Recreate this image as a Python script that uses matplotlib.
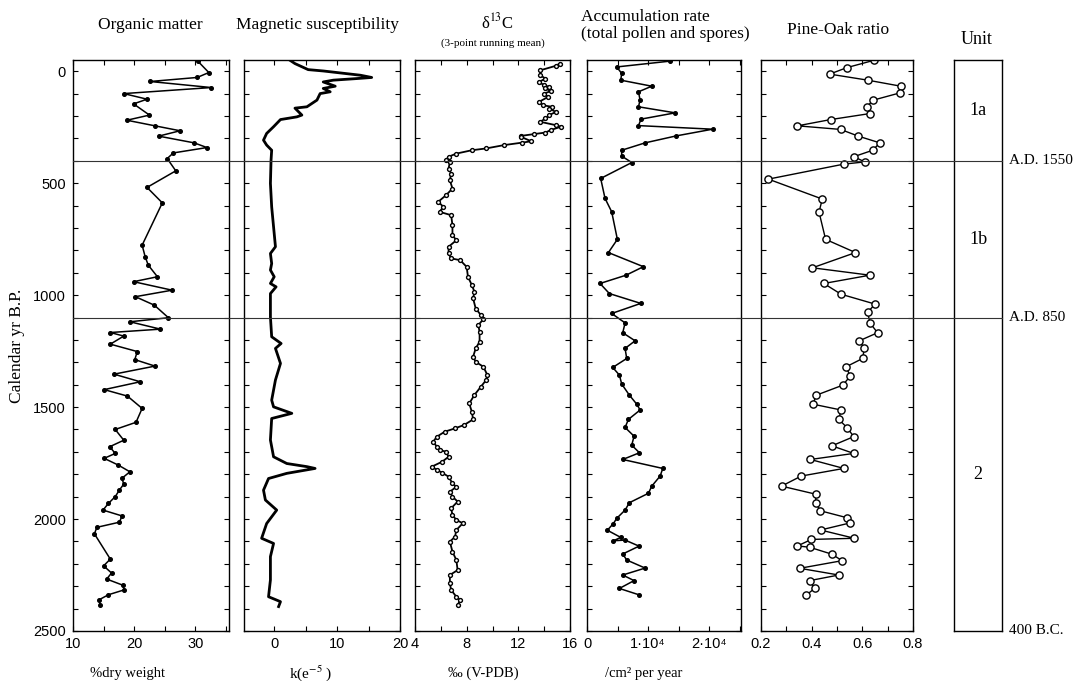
import matplotlib.pyplot as plt
from matplotlib.lines import Line2D
from matplotlib.ticker import MultipleLocator
from matplotlib.transforms import blended_transform_factory

plt.rcParams['mathtext.fontset'] = 'stix'

SERIF = 'Liberation Serif'
SANS = ['Liberation Sans', 'DejaVu Sans']

# ---- data: calendar age (yr B.P.) and measured value per record ----
om_age = [-45, 6, 28, 46, 73, 100, 125, 146, 196, 219, 244, 266, 290, 320, 341, 365, 390,
          445, 519, 588, 777, 829, 866, 918, 940, 978, 1007, 1045, 1101, 1119, 1152, 1167,
          1183, 1219, 1252, 1288, 1317, 1353, 1387, 1422, 1451, 1506, 1568, 1600, 1648,
          1677, 1707, 1729, 1759, 1789, 1818, 1844, 1870, 1900, 1930, 1960, 1986, 2014,
          2037, 2066, 2179, 2209, 2241, 2268, 2295, 2316, 2338, 2360, 2384]
om_val = [30.4, 32.2, 30.3, 22.6, 32.6, 18.3, 22.1, 19.9, 22.5, 18.8, 23.4, 27.5, 24.0,
          29.8, 31.9, 26.4, 25.4, 26.8, 22.1, 24.6, 21.3, 21.8, 22.3, 23.8, 19.9, 26.2,
          20.2, 23.3, 25.6, 19.3, 24.3, 16.1, 18.3, 16.1, 20.5, 20.1, 23.4, 16.7, 21.0,
          15.1, 18.9, 21.3, 20.3, 16.9, 18.3, 16.0, 16.9, 15.1, 17.4, 19.3, 18.0, 18.3,
          17.6, 16.9, 15.8, 14.9, 18.0, 17.6, 13.9, 13.5, 16.1, 15.0, 16.3, 15.5, 18.1,
          18.4, 15.8, 14.3, 14.4]

ms_age = [-49, -34, -7, -1, 18, 28, 33, 40, 48, 67, 77, 92, 100, 129, 159, 165, 196, 204,
          216, 248, 278, 308, 330, 353, 397, 501, 606, 695, 784, 814, 859, 888, 918, 948,
          963, 993, 1097, 1186, 1216, 1238, 1305, 1379, 1469, 1499, 1528, 1551, 1647, 1722,
          1752, 1766, 1774, 1796, 1819, 1871, 1915, 1960, 2020, 2086, 2109, 2168, 2272,
          2347, 2369, 2391]
ms_val = [2.5, 3.3, 5.4, 7.8, 13.7, 15.5, 13.1, 9.4, 7.8, 9.7, 7.8, 8.9, 7.3, 6.8, 5.2,
          3.3, 4.4, 3.6, 1.0, -0.1, -1.2, -1.7, -1.2, -0.4, -0.5, -0.6, -0.4, -0.1, 0.2,
          -0.6, -0.4, -0.6, 0.0, -0.6, 0.3, -0.6, -0.6, -0.4, 1.1, 0.2, 1.0, 0.2, -0.4,
          -0.1, 2.8, -0.4, -0.6, -0.1, 2.0, 5.2, 6.5, 2.0, -0.9, -1.7, -1.4, 0.4, -1.2,
          -2.0, -0.1, -0.6, -0.6, -0.9, 1.0, 0.7]

d13c_age = [-34, -24, -4, 18, 33, 48, 63, 70, 77, 89, 100, 115, 137, 152, 159, 167, 182,
            196, 211, 226, 241, 248, 263, 274, 281, 289, 293, 313, 319, 330, 345, 353, 368,
            382, 397, 405, 435, 457, 487, 524, 554, 583, 606, 628, 643, 688, 732, 755, 784,
            814, 836, 844, 874, 918, 955, 985, 1015, 1060, 1089, 1107, 1134, 1164, 1208,
            1238, 1275, 1298, 1320, 1357, 1380, 1409, 1446, 1484, 1521, 1555, 1580, 1595,
            1610, 1632, 1655, 1677, 1692, 1699, 1722, 1744, 1766, 1781, 1793, 1811, 1841,
            1856, 1878, 1900, 1922, 1952, 1982, 2004, 2019, 2049, 2079, 2101, 2146, 2183,
            2228, 2250, 2287, 2317, 2347, 2362, 2384]
d13c_val = [15.2, 14.9, 13.7, 13.7, 14.1, 13.6, 14.0, 14.4, 14.1, 14.5, 14.0, 14.3, 13.6,
            13.9, 14.6, 14.4, 14.9, 14.4, 14.1, 13.7, 14.9, 15.3, 14.5, 14.1, 13.2, 12.2,
            12.2, 13.0, 12.3, 10.9, 9.5, 8.4, 7.2, 6.6, 6.4, 6.7, 6.6, 6.8, 6.7, 6.9, 6.4,
            5.8, 6.2, 5.9, 6.8, 6.9, 6.9, 7.2, 6.6, 6.6, 6.8, 7.5, 8.0, 8.1, 8.4, 8.6, 8.5,
            8.7, 9.1, 9.3, 8.9, 9.0, 9.0, 8.7, 8.5, 8.7, 9.3, 9.6, 9.5, 9.1, 8.6, 8.2, 8.4,
            8.5, 7.8, 7.1, 6.3, 5.7, 5.4, 5.7, 5.9, 6.4, 6.6, 6.1, 5.3, 5.7, 6.1, 6.6, 6.9,
            7.2, 6.7, 6.9, 7.3, 6.8, 6.9, 7.2, 7.7, 7.2, 7.1, 6.7, 6.9, 7.2, 7.3, 6.7, 6.7,
            6.8, 7.2, 7.5, 7.3]

acc_age = [-45, -19, 10, 40, 67, 92, 129, 159, 186, 214, 243, 259, 289, 320, 353, 379, 408,
           479, 568, 628, 751, 810, 873, 911, 948, 993, 1037, 1082, 1124, 1168, 1204, 1238,
           1283, 1323, 1357, 1397, 1447, 1487, 1513, 1555, 1591, 1630, 1670, 1704, 1734,
           1774, 1808, 1853, 1885, 1927, 1960, 1997, 2020, 2050, 2082, 2097, 2094, 2121,
           2156, 2183, 2219, 2250, 2275, 2310, 2339]
acc_val = [13600, 4860, 5680, 5520, 10600, 8420, 8690, 8420, 14430, 8850, 8420, 20550,
           14590, 9510, 5680, 5680, 7320, 2240, 2950, 4040, 4970, 3500, 9230, 6390, 2130,
           3660, 8800, 4040, 6230, 5850, 7870, 6230, 6500, 4210, 5300, 5680, 6940, 8140,
           8690, 6780, 6230, 7700, 7320, 8580, 5850, 12400, 11970, 10600, 10050, 6940, 6230,
           4860, 4320, 3330, 5520, 4320, 6230, 8520, 5850, 6500, 9510, 5850, 7700, 5300,
           8580]

po_age = [-49, -16, 13, 40, 67, 97, 129, 159, 189, 216, 244, 260, 290, 320, 353, 382, 405,
          415, 482, 571, 629, 751, 810, 878, 911, 948, 996, 1040, 1077, 1124, 1168, 1204,
          1238, 1283, 1320, 1362, 1402, 1447, 1487, 1513, 1555, 1592, 1632, 1673, 1707,
          1734, 1774, 1808, 1853, 1889, 1927, 1963, 1994, 2017, 2049, 2086, 2091, 2120,
          2126, 2157, 2186, 2220, 2250, 2275, 2310, 2339]
po_val = [0.647, 0.539, 0.471, 0.621, 0.752, 0.748, 0.644, 0.617, 0.631, 0.475, 0.344,
          0.514, 0.584, 0.669, 0.641, 0.566, 0.610, 0.527, 0.229, 0.442, 0.429, 0.455,
          0.573, 0.403, 0.630, 0.448, 0.516, 0.650, 0.621, 0.630, 0.660, 0.588, 0.608,
          0.601, 0.536, 0.552, 0.523, 0.418, 0.405, 0.516, 0.507, 0.540, 0.566, 0.480,
          0.566, 0.395, 0.527, 0.359, 0.281, 0.416, 0.416, 0.434, 0.539, 0.553, 0.435,
          0.569, 0.399, 0.344, 0.392, 0.480, 0.520, 0.353, 0.507, 0.392, 0.412, 0.379]

unit_bounds = [400, 1100]
unit_bound_labels = ['A.D. 1550', 'A.D. 850']
unit_names = ['1a', '1b', '2']
unit_centres = [175, 750, 1800]

W, H = 1084, 681


def px_box(x0, x1, y0=60, y1=631):
    return [x0 / W, 1 - y1 / H, (x1 - x0) / W, (y1 - y0) / H]


fig = plt.figure(figsize=(W / 100, H / 100), dpi=100)

# panel geometry and x-axis set-up
panels = [
    dict(x=(73, 229), age=om_age, val=om_val, xlim=(10, 35.5), major=[10, 20, 30], minor=5,
         labels=['10', '20', '30'],
         style=dict(color='black', lw=1.1, marker='o', ms=2.6, mfc='black')),
    dict(x=(244, 400), age=ms_age, val=ms_val, xlim=(-4.8, 20), major=[0, 10, 20], minor=5,
         labels=['0', '10', '20'],
         style=dict(color='black', lw=2.0, solid_joinstyle='round')),
    dict(x=(415, 570), age=d13c_age, val=d13c_val, xlim=(4, 16), major=[4, 8, 12, 16], minor=2,
         labels=['4', '8', '12', '16'],
         style=dict(color='black', lw=1.3, marker='o', ms=2.8, mfc='white', mew=1.0)),
    dict(x=(587, 741), age=acc_age, val=acc_val, xlim=(0, 25200), major=[0, 10000, 20000],
         minor=5000, labels=['0', '1·10⁴', '2·10⁴'],
         style=dict(color='black', lw=1.1, marker='o', ms=2.6, mfc='black')),
    dict(x=(761, 913), age=po_age, val=po_val, xlim=(0.2, 0.8), major=[0.2, 0.4, 0.6, 0.8],
         minor=0.1, labels=['0.2', '0.4', '0.6', '0.8'],
         style=dict(color='black', lw=1.0, marker='o', ms=5.2, mfc='white', mew=1.0)),
]

axes = []
for i, p in enumerate(panels):
    ax = fig.add_axes(px_box(*p['x']))
    ax.plot(p['val'], p['age'], **p['style'])
    ax.set_xlim(*p['xlim'])
    ax.set_ylim(2500, -50)
    ax.set_xticks(p['major'])
    ax.set_xticklabels(p['labels'], fontfamily=SANS, fontsize=10.5)
    ax.xaxis.set_minor_locator(MultipleLocator(p['minor']))
    ax.set_yticks(range(0, 2501, 500))
    ax.yaxis.set_minor_locator(MultipleLocator(100))
    ax.tick_params(which='both', direction='in', top=True, right=True,
                   length=3.5, width=0.8, labelsize=10.5)
    ax.tick_params(axis='x', pad=4)
    ax.tick_params(axis='y', pad=5, labelleft=(i == 0))
    for lab in ax.get_yticklabels():
        lab.set_fontfamily(SANS)
    for s in ax.spines.values():
        s.set_linewidth(1.0)
    axes.append(ax)

# unit column
ax_u = fig.add_axes(px_box(954, 1002))
ax_u.set_xlim(0, 1)
ax_u.set_ylim(2500, -50)
ax_u.set_xticks([])
ax_u.set_yticks([])
for s in ax_u.spines.values():
    s.set_linewidth(1.0)
for name, yc in zip(unit_names, unit_centres):
    ax_u.text(0.5, yc, name, ha='center', va='center', fontfamily=SERIF, fontsize=13)
bt = blended_transform_factory(ax_u.transAxes, ax_u.transData)
for yb, lab in zip(unit_bounds, unit_bound_labels):
    ax_u.text(1.14, yb, lab, transform=bt, ha='left', va='center',
              fontfamily=SERIF, fontsize=11)
ax_u.text(1.14, 2500, '400 B.C.', transform=bt, ha='left', va='center',
          fontfamily=SERIF, fontsize=11)

# boundary lines across all panels
lt = blended_transform_factory(fig.transFigure, axes[0].transData)
for yb in unit_bounds:
    fig.add_artist(Line2D([73 / W, 1002 / W], [yb, yb], transform=lt,
                          color='#333333', lw=0.8, zorder=5))

axes[0].set_ylabel('Calendar yr B.P.', fontfamily=SERIF, fontsize=12.5, labelpad=6)


def ftext(x, y, s, **kw):
    kw.setdefault('ha', 'center')
    kw.setdefault('va', 'center')
    kw.setdefault('fontfamily', SERIF)
    fig.text(x / W, 1 - y / H, s, **kw)


# column titles
ftext(150, 25, 'Organic matter', fontsize=12.5)
ftext(318, 25, 'Magnetic susceptibility', fontsize=12.5)
ftext(497, 22, r'δ$^{13}$C', fontsize=12)
ftext(493, 43, '(3-point running mean)', fontsize=8)
ftext(581, 17, 'Accumulation rate', fontsize=12.5, ha='left')
ftext(581, 34, '(total pollen and spores)', fontsize=12.5, ha='left')
ftext(838, 30, 'Pine-Oak ratio', fontsize=12.5)
ftext(977, 40, 'Unit', fontsize=13)

# units below each panel
ftext(127, 673, '%dry weight', fontsize=10.5)
ftext(311, 673, r'k(e$^{-5}$ )', fontsize=11)
ftext(483, 673, '‰ (V-PDB)', fontsize=10.5)
ftext(644, 673, '/cm² per year', fontsize=10.5)

fig.savefig('out.png', dpi=100)
